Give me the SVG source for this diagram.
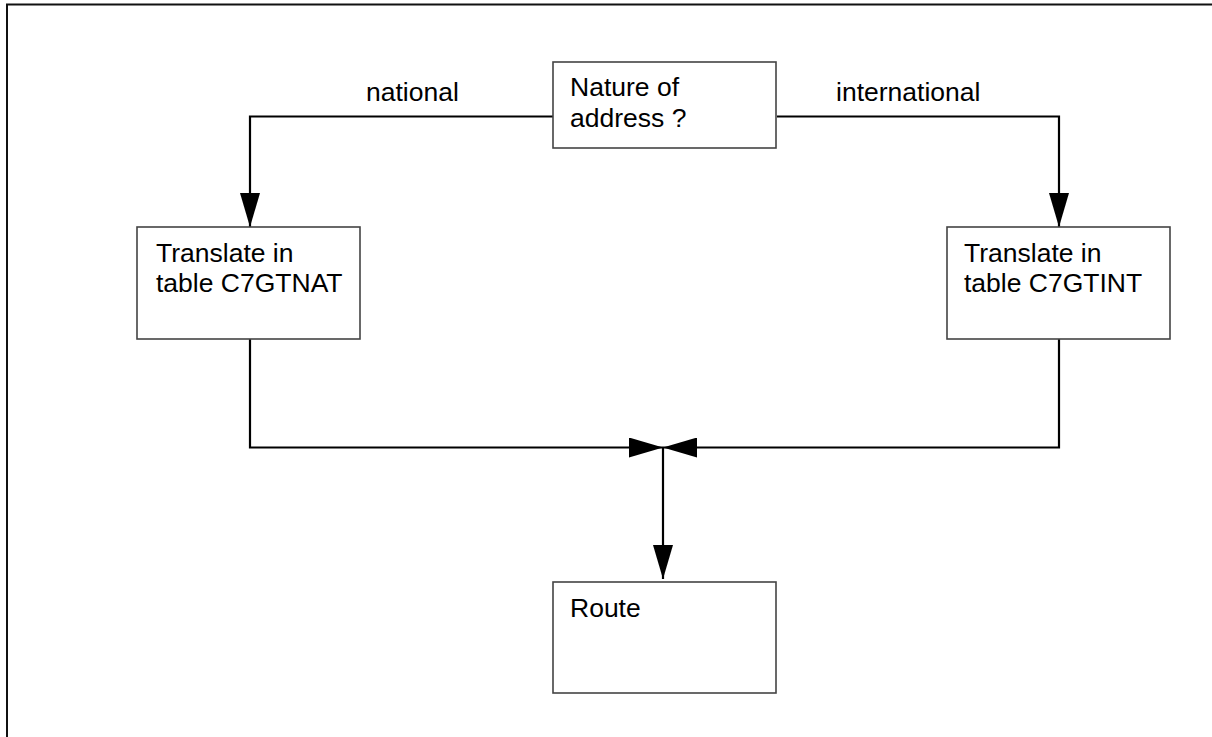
<svg xmlns="http://www.w3.org/2000/svg" width="1212" height="737" viewBox="0 0 1212 737">
<style>
.box{fill:#fff;stroke:#444;stroke-width:1.6}
.t{font-family:"Liberation Sans",Arial,sans-serif;font-size:26.5px;fill:#000}
.c{fill:none;stroke:#000;stroke-width:2.2}
</style>
<defs>
<marker id="ah" markerWidth="34" markerHeight="20" refX="34" refY="10" orient="auto" markerUnits="userSpaceOnUse">
<path d="M0,0 L34,10 L0,20 Z" fill="#000"/>
</marker>
</defs>
<rect width="1212" height="737" fill="#fff"/>
<g id="frame">
<path d="M7,737 V4.5 H1212" fill="none" stroke="#111" stroke-width="2"/>
</g>
<g id="connectors">
<path class="c" d="M553,116.5 H250 V227" marker-end="url(#ah)"/>
<path class="c" d="M777,116.5 H1059 V227" marker-end="url(#ah)"/>
<path class="c" d="M250,339 V447.5 H663" marker-end="url(#ah)"/>
<path class="c" d="M1059,339 V447.5 H663" marker-end="url(#ah)"/>
<path class="c" d="M663,447.5 V579" marker-end="url(#ah)"/>
<text class="t" x="366" y="101">national</text>
<text class="t" x="836" y="101">international</text>
</g>
<g id="nature">
<rect class="box" x="553" y="62" width="223" height="86"/>
<text class="t" x="570" y="96">Nature of</text>
<text class="t" x="570" y="127">address ?</text>
</g>
<g id="nat">
<rect class="box" x="137" y="227" width="223" height="112"/>
<text class="t" x="156" y="262">Translate in</text>
<text class="t" x="156" y="292">table C7GTNAT</text>
</g>
<g id="int">
<rect class="box" x="947" y="227" width="223" height="112"/>
<text class="t" x="964" y="262">Translate in</text>
<text class="t" x="964" y="292">table C7GTINT</text>
</g>
<g id="route">
<rect class="box" x="553" y="582" width="223" height="111"/>
<text class="t" x="570" y="617">Route</text>
</g>
</svg>
